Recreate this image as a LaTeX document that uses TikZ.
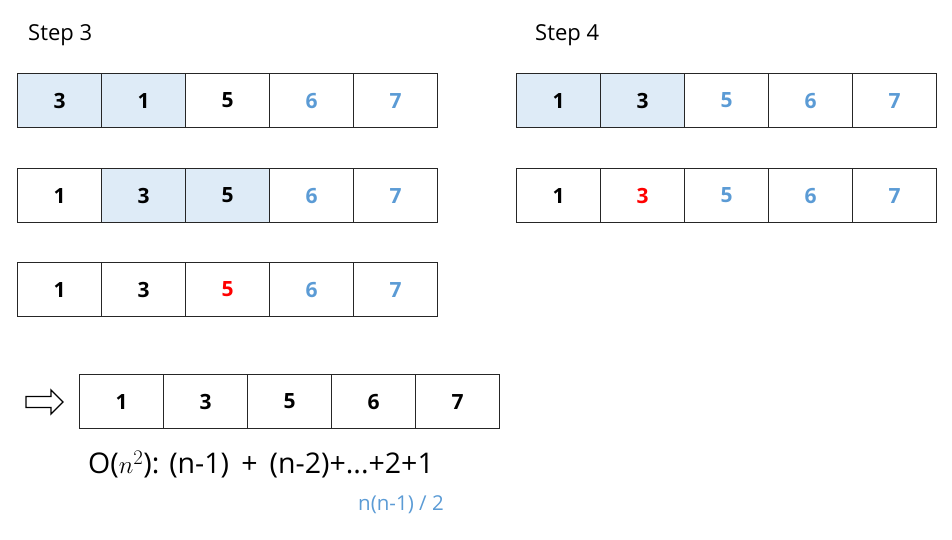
\documentclass[tikz,border=0pt]{standalone}
\usepackage{fontspec}
\setmainfont{Open Sans}
\definecolor{cellblue}{HTML}{DEEBF7}
\definecolor{txtblue}{HTML}{5B9BD5}
\definecolor{txtred}{HTML}{FF0000}
\tikzset{
  cell/.style={draw=black!85, line width=1.2pt, minimum width=84pt, minimum height=54pt, inner sep=0pt, font=\fontsize{21}{23}\selectfont\bfseries, anchor=north west},
  hl/.style={fill=cellblue},
  steplabel/.style={font=\fontsize{22}{24}\selectfont, anchor=west, inner sep=0pt},
}
\begin{document}
\begin{tikzpicture}[x=1pt,y=-1pt]
\useasboundingbox (0,0) rectangle (952,540);
\node[steplabel] (s3) at (28,35) {Step 3};
\node[steplabel] (s4) at (535,35) {Step 4};
% Step 3 row 1
\foreach \i/\v/\c/\f in {0/3/black/hl,1/1/black/hl,2/5/black/,3/6/txtblue/,4/7/txtblue/}
  \node[cell,\f,text=\c] (a\i) at (17+84*\i,73) {\v};
% Step 3 row 2
\foreach \i/\v/\c/\f in {0/1/black/,1/3/black/hl,2/5/black/hl,3/6/txtblue/,4/7/txtblue/}
  \node[cell,\f,text=\c] (b\i) at (17+84*\i,168) {\v};
% Step 3 row 3
\foreach \i/\v/\c in {0/1/black,1/3/black,2/5/txtred,3/6/txtblue,4/7/txtblue}
  \node[cell,text=\c] (c\i) at (17+84*\i,262) {\v};
% Step 4 row 1
\foreach \i/\v/\c/\f in {0/1/black/hl,1/3/black/hl,2/5/txtblue/,3/6/txtblue/,4/7/txtblue/}
  \node[cell,\f,text=\c] (d\i) at (516+84*\i,73) {\v};
% Step 4 row 2
\foreach \i/\v/\c in {0/1/black,1/3/txtred,2/5/txtblue,3/6/txtblue,4/7/txtblue}
  \node[cell,text=\c] (e\i) at (516+84*\i,168) {\v};
% Result row
\foreach \i/\v in {0/1,1/3,2/5,3/6,4/7}
  \node[cell] (f\i) at (79+84*\i,374) {\v};
% hollow arrow
\draw[line width=1.3pt, line join=miter] (26,396.5) -- (51,396.5) -- (51,390) -- (63,402) -- (51,414) -- (51,407.5) -- (26,407.5) -- cycle;
% formula
\node[font=\fontsize{28.5}{31}\selectfont, inner sep=0pt, anchor=west] (form) at (88,465) {O($n^2$): (n-1) \,+\, (n-2)+...+2+1};
\node[font=\fontsize{20.5}{23}\selectfont, text=txtblue, inner sep=0pt, anchor=west] (half) at (358,505) {n(n-1) / 2};
\end{tikzpicture}
\end{document}
